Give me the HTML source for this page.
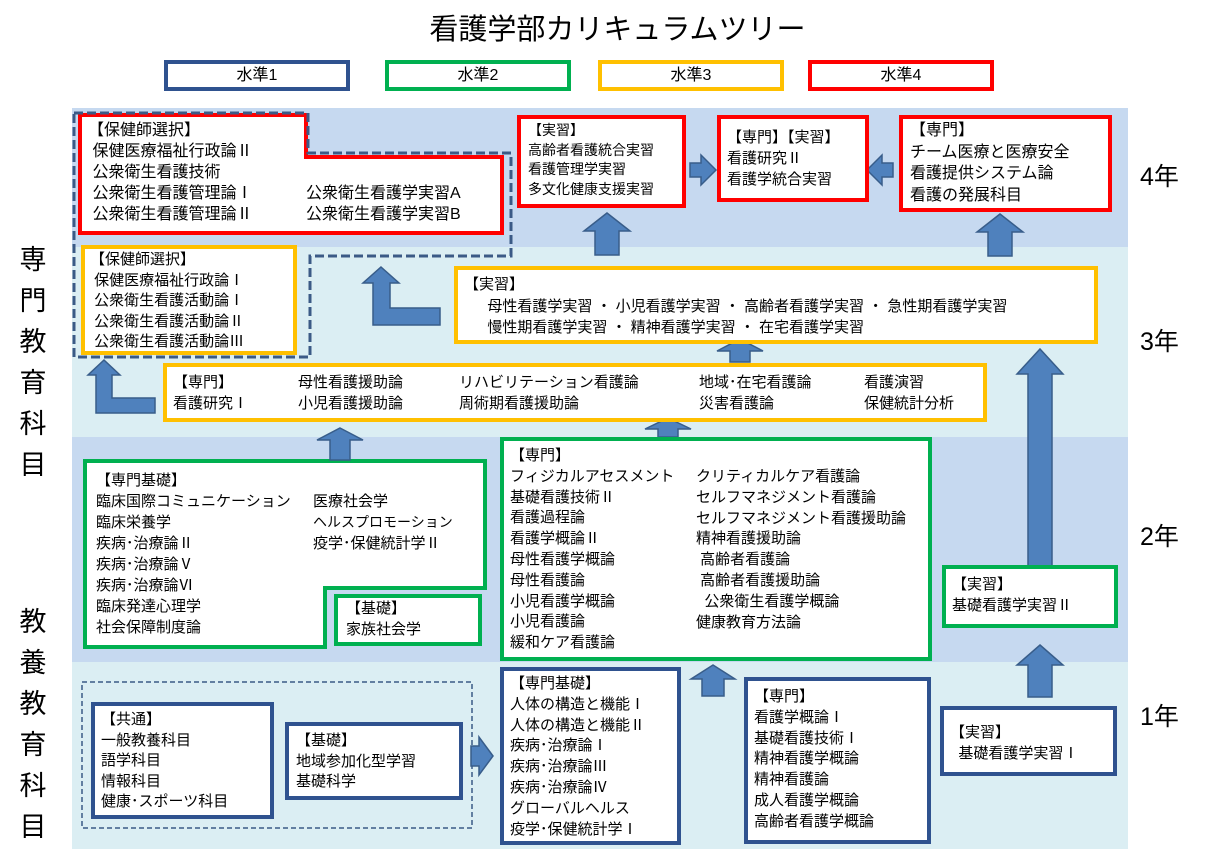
<!DOCTYPE html>
<html><head><meta charset="utf-8"><style>
*{margin:0;padding:0;box-sizing:border-box}
body{width:1205px;height:861px;background:#fff;position:relative;overflow:hidden;font-family:"Liberation Sans","Noto Sans CJK JP",sans-serif;color:#000}
.a{position:absolute}
.b{position:absolute;background:#fff;border-width:4px;border-style:solid}
.t{position:absolute;font-size:15px;line-height:21px;white-space:pre}
.N{border-color:#2f528f}.G{border-color:#00b050}.O{border-color:#ffc000}.R{border-color:#ff0000}
.lg{position:absolute;top:60px;width:186px;height:31px;border-width:4px;border-style:solid;font-size:16px;text-align:center;line-height:23px;background:#fff}
.yr{position:absolute;left:1140px;font-size:25px}
.vt{position:absolute;left:18px;width:30px;font-size:27px;line-height:41px;text-align:center}
</style></head><body>
<div class="a" style="left:72px;top:108px;width:1056px;height:139px;background:#c6d9f0"></div>
<div class="a" style="left:72px;top:247px;width:1056px;height:190px;background:#dbeef3"></div>
<div class="a" style="left:72px;top:437px;width:1056px;height:225px;background:#c6d9f0"></div>
<div class="a" style="left:72px;top:662px;width:1056px;height:187px;background:#dbeef3"></div>

<div class="a" style="left:0;width:1205px;top:6px;text-align:center;font-size:29px;padding-left:30px">看護学部カリキュラムツリー</div>
<div class="lg N" style="left:164px">水準1</div>
<div class="lg G" style="left:385px">水準2</div>
<div class="lg O" style="left:598px">水準3</div>
<div class="lg R" style="left:808px">水準4</div>

<div class="vt" style="top:240px">専<br>門<br>教<br>育<br>科<br>目</div>
<div class="vt" style="top:602px">教<br>養<br>教<br>育<br>科<br>目</div>
<div class="yr" style="top:157px">4年</div>
<div class="yr" style="top:322px">3年</div>
<div class="yr" style="top:517px">2年</div>
<div class="yr" style="top:697px">1年</div>

<svg class="a" style="left:0;top:0" width="1205" height="861">
<g fill="#fff" stroke-width="4">
<path d="M80,115 H306 V157 H502 V233 H80 Z" stroke="#ff0000"/>
<path d="M85,461 H485 V588 H325 V647 H85 Z" stroke="#00b050"/>
</g>
<path d="M74,113 H308 V153 H511 V256 H310 V357 H74 Z" fill="none" stroke="#3b5a86" stroke-width="3" stroke-dasharray="9,4"/>
<rect x="82" y="682" width="390" height="146" fill="none" stroke="#3b5a86" stroke-width="1.5" stroke-dasharray="5,3"/>
<g fill="#4f81bd" stroke="#385d8a" stroke-width="1.5">
<polygon points="607,213 630,231 619,231 619,255 595,255 595,231 584,231"/>
<polygon points="1000,214 1023,232 1012,232 1012,256 988,256 988,232 977,232"/>
<polygon points="740,339 763,351 750,351 750,362 730,362 730,351 717,351"/>
<polygon points="340,428 363,440 350,440 350,460 330,460 330,440 317,440"/>
<polygon points="668,418 691,429 678,429 678,437 658,437 658,429 645,429"/>
<polygon points="1040,349 1063,374 1052,374 1052,575 1028,575 1028,374 1017,374"/>
<polygon points="1040,645 1063,665 1052,665 1052,697 1028,697 1028,665 1017,665"/>
<polygon points="713,665 735,679 724,679 724,696 702,696 702,679 691,679"/>
<polygon points="716,170 701,155 701,163 690,163 690,177 701,177 701,185"/>
<polygon points="867,170 882,155 882,163 893,163 893,177 882,177 882,185"/>
<polygon points="493,756 479,737 479,746 471,746 471,766 479,766 479,775"/>
<polygon points="381,267 399,283 390,283 390,308 440,308 440,325 373,325 373,283 363,283"/>
<polygon points="104,360 120,375 112,375 112,398 155,398 155,413 96,413 96,375 88,375"/>
</g>
</svg>

<div class="t" style="left:88px;top:120px;line-height:21px;font-size:16px">【保健師選択】
 保健医療福祉行政論Ⅱ
 公衆衛生看護技術
 公衆衛生看護管理論Ⅰ
 公衆衛生看護管理論Ⅱ</div>
<div class="t" style="left:306px;top:183px;font-size:16px">公衆衛生看護学実習A
公衆衛生看護学実習B</div>

<div class="b O" style="left:81px;top:245px;width:216px;height:110px"></div>
<div class="t" style="left:90px;top:250px;line-height:20.5px">【保健師選択】
 保健医療福祉行政論Ⅰ
 公衆衛生看護活動論Ⅰ
 公衆衛生看護活動論Ⅱ
 公衆衛生看護活動論Ⅲ</div>

<div class="b R" style="left:517px;top:115px;width:169px;height:93px"></div>
<div class="t" style="left:528px;top:121px;font-size:14px;line-height:19.5px">【実習】
高齢者看護統合実習
看護管理学実習
多文化健康支援実習</div>
<div class="b R" style="left:717px;top:115px;width:152px;height:87px"></div>
<div class="t" style="left:727px;top:127px;line-height:21px">【専門】【実習】
看護研究Ⅱ
看護学統合実習</div>
<div class="b R" style="left:899px;top:115px;width:213px;height:97px"></div>
<div class="t" style="left:910px;top:120px;line-height:21.5px;font-size:16px">【専門】
チーム医療と医療安全
看護提供システム論
看護の発展科目</div>

<div class="b O" style="left:454px;top:266px;width:644px;height:78px"></div>
<div class="t" style="left:464px;top:274px;line-height:21.5px">【実習】
　  母性看護学実習 ・ 小児看護学実習 ・ 高齢者看護学実習 ・ 急性期看護学実習
　  慢性期看護学実習 ・ 精神看護学実習 ・ 在宅看護学実習</div>

<div class="b O" style="left:163px;top:363px;width:824px;height:59px"></div>
<div class="t" style="left:173px;top:372px">【専門】
看護研究Ⅰ</div>
<div class="t" style="left:298px;top:372px">母性看護援助論
小児看護援助論</div>
<div class="t" style="left:459px;top:372px">リハビリテーション看護論
周術期看護援助論</div>
<div class="t" style="left:699px;top:372px">地域･在宅看護論
災害看護論</div>
<div class="t" style="left:864px;top:372px">看護演習
保健統計分析</div>

<div class="t" style="left:96px;top:470px">【専門基礎】
臨床国際コミュニケーション
臨床栄養学
疾病･治療論Ⅱ
疾病･治療論Ⅴ
疾病･治療論Ⅵ
臨床発達心理学
社会保障制度論</div>
<div class="t" style="left:313px;top:491px">医療社会学
<span style="font-size:14px">ヘルスプロモーション</span>
疫学･保健統計学Ⅱ</div>
<div class="b G" style="left:334px;top:594px;width:148px;height:52px"></div>
<div class="t" style="left:346px;top:598px">【基礎】
家族社会学</div>

<div class="b G" style="left:500px;top:437px;width:432px;height:224px"></div>
<div class="t" style="left:510px;top:446px;line-height:20.8px">【専門】
フィジカルアセスメント
基礎看護技術Ⅱ
看護過程論
看護学概論Ⅱ
母性看護学概論
母性看護論
小児看護学概論
小児看護論
緩和ケア看護論</div>
<div class="t" style="left:696px;top:467px;line-height:20.8px">クリティカルケア看護論
セルフマネジメント看護論
セルフマネジメント看護援助論
精神看護援助論
 高齢者看護論
 高齢者看護援助論
  公衆衛生看護学概論
健康教育方法論</div>

<div class="b G" style="left:942px;top:565px;width:176px;height:63px"></div>
<div class="t" style="left:952px;top:574px">【実習】
基礎看護学実習Ⅱ</div>

<div class="b N" style="left:500px;top:667px;width:181px;height:178px"></div>
<div class="t" style="left:510px;top:674px;line-height:20.8px">【専門基礎】
人体の構造と機能Ⅰ
人体の構造と機能Ⅱ
疾病･治療論Ⅰ
疾病･治療論Ⅲ
疾病･治療論Ⅳ
グローバルヘルス
疫学･保健統計学Ⅰ</div>
<div class="b N" style="left:744px;top:677px;width:187px;height:167px"></div>
<div class="t" style="left:754px;top:687px;line-height:20.8px">【専門】
看護学概論Ⅰ
基礎看護技術Ⅰ
精神看護学概論
精神看護論
成人看護学概論
高齢者看護学概論</div>
<div class="b N" style="left:940px;top:706px;width:177px;height:70px"></div>
<div class="t" style="left:950px;top:722px">【実習】
  基礎看護学実習Ⅰ</div>

<div class="b N" style="left:91px;top:702px;width:183px;height:117px"></div>
<div class="t" style="left:101px;top:710px;line-height:20.5px">【共通】
一般教養科目
語学科目
情報科目
健康･スポーツ科目</div>
<div class="b N" style="left:285px;top:722px;width:178px;height:78px"></div>
<div class="t" style="left:296px;top:731px;line-height:20.5px">【基礎】
地域参加化型学習
基礎科学</div>
</body></html>
